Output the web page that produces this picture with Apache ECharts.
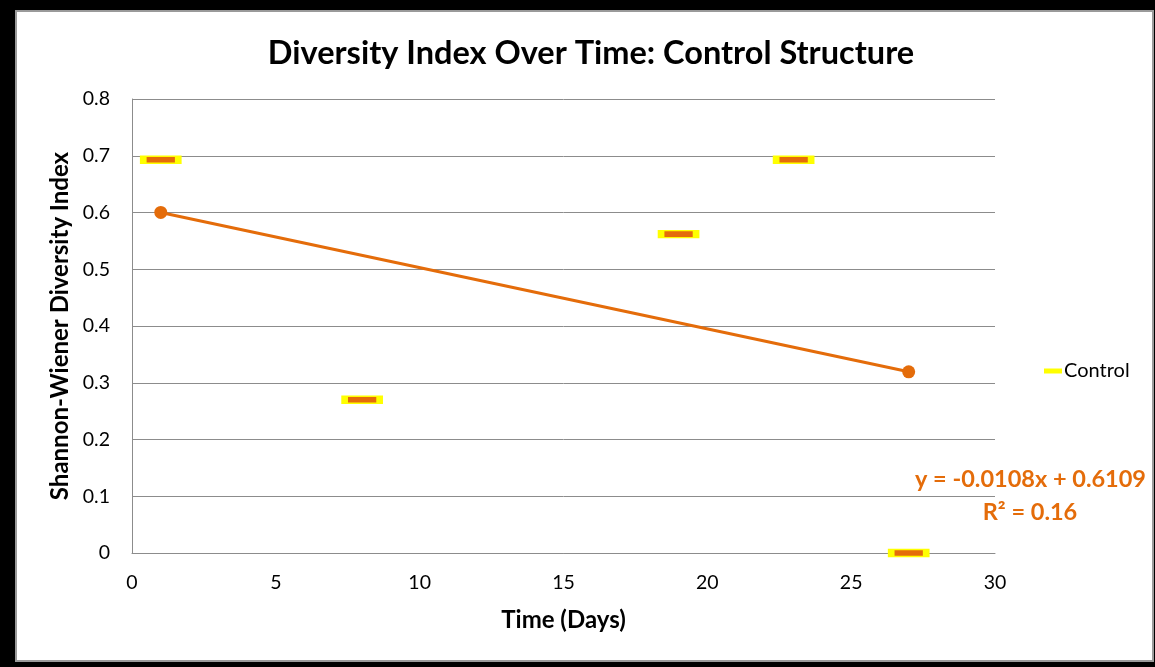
<!DOCTYPE html>
<html>
<head>
<meta charset="utf-8">
<script src="https://cdn.jsdelivr.net/npm/echarts@6/dist/echarts.min.js"></script>
<style>
  html, body { margin: 0; padding: 0; background: #000; }
  #chart { width: 1155px; height: 667px; }
</style>
</head>
<body>
<div id="chart"></div>
<script>
// Observations: day of sampling and Shannon-Wiener index
const days = [1, 8, 19, 23, 27];
const diversity = [0.693, 0.27, 0.562, 0.693, 0];

// Linear trend fitted to the observations (as stated on the chart)
const trendSlope = -0.0108;
const trendIntercept = 0.6109;
const trendR2 = 0.16;
const trendDays = [1, 27];

const yTicks = [0, 0.1, 0.2, 0.3, 0.4, 0.5, 0.6, 0.7, 0.8];
const xTicks = [0, 5, 10, 15, 20, 25, 30];

const FONT = 'Lato, "Open Sans", sans-serif';
const ORANGE = '#E46C0A';

const chart = echarts.init(document.getElementById('chart'), null, { renderer: 'canvas' });

const points = days.map((d, i) => [d, diversity[i]]);
const trend = trendDays.map(d => [d, +(trendIntercept + trendSlope * d).toFixed(4)]);

chart.setOption({
  backgroundColor: 'transparent',
  animation: false,
  title: {
    text: 'Diversity Index Over Time: Control Structure',
    left: 586, top: 32, textAlign: 'center',
    textStyle: { fontFamily: FONT, fontWeight: 'bold', fontSize: 32.5, color: '#000' }
  },
  grid: { left: 132, right: 160, top: 99, bottom: 114 },
  legend: {
    data: [{ name: 'Control', icon: 'rect', itemStyle: { color: '#FFFF00', borderWidth: 0 } }],
    left: 1039, top: 356, itemWidth: 18, itemHeight: 5, itemGap: 4,
    textStyle: { fontFamily: FONT, fontSize: 20, color: '#000', padding: [0, 0, 0, -3] }
  },
  xAxis: {
    type: 'value', min: 0, max: 30, interval: 5,
    name: 'Time (Days)', nameLocation: 'middle', nameGap: 55,
    nameTextStyle: { fontFamily: FONT, fontWeight: 'bold', fontSize: 24, color: '#000' },
    axisLine: { show: true, lineStyle: { color: '#8c8c8c', width: 1 } },
    axisTick: { show: false },
    splitLine: { show: false },
    axisLabel: { fontFamily: FONT, fontSize: 19.5, color: '#000', margin: 20 }
  },
  yAxis: {
    type: 'value', min: 0, max: 0.8, interval: 0.1,
    name: 'Shannon-Wiener Diversity Index', nameLocation: 'middle', nameGap: 60,
    nameTextStyle: { fontFamily: FONT, fontWeight: 'bold', fontSize: 24, color: '#000' },
    axisLine: { show: true, lineStyle: { color: '#8c8c8c', width: 1 } },
    axisTick: { show: false },
    splitLine: { show: true, lineStyle: { color: '#8c8c8c', width: 1 } },
    axisLabel: { fontFamily: FONT, fontSize: 19.5, color: '#000', margin: 22,
      formatter: v => (Math.round(v * 10) / 10).toString() }
  },
  series: [
    {
      name: 'Control', type: 'scatter', data: points,
      symbol: 'rect', symbolSize: [35, 7],
      itemStyle: { color: ORANGE, borderColor: '#FFFF00', borderWidth: 3, opacity: 1 },
      z: 3
    },
    {
      name: 'Linear (Control)', type: 'line', data: trend,
      symbol: 'circle', symbolSize: 13, showSymbol: true,
      lineStyle: { color: ORANGE, width: 3 },
      itemStyle: { color: ORANGE },
      z: 2
    }
  ],
  graphic: [
    {
      type: 'rect', z: -10, silent: true,
      shape: { x: 16, y: 11, width: 1137, height: 650 },
      style: { fill: '#fff', stroke: '#9a9a9a', lineWidth: 2 }
    },
    {
      type: 'text', z: 10, x: 1146, y: 479,
      style: {
        text: 'y = -0.0108x + 0.6109', align: 'right', verticalAlign: 'middle',
        fontFamily: FONT, fontWeight: 'bold', fontSize: 23.5, fill: ORANGE
      }
    },
    {
      type: 'text', z: 10, x: 1030, y: 512,
      style: {
        text: 'R² = ' + trendR2, align: 'center', verticalAlign: 'middle',
        fontFamily: FONT, fontWeight: 'bold', fontSize: 23.5, fill: ORANGE
      }
    }
  ]
});
</script>
</body>
</html>
